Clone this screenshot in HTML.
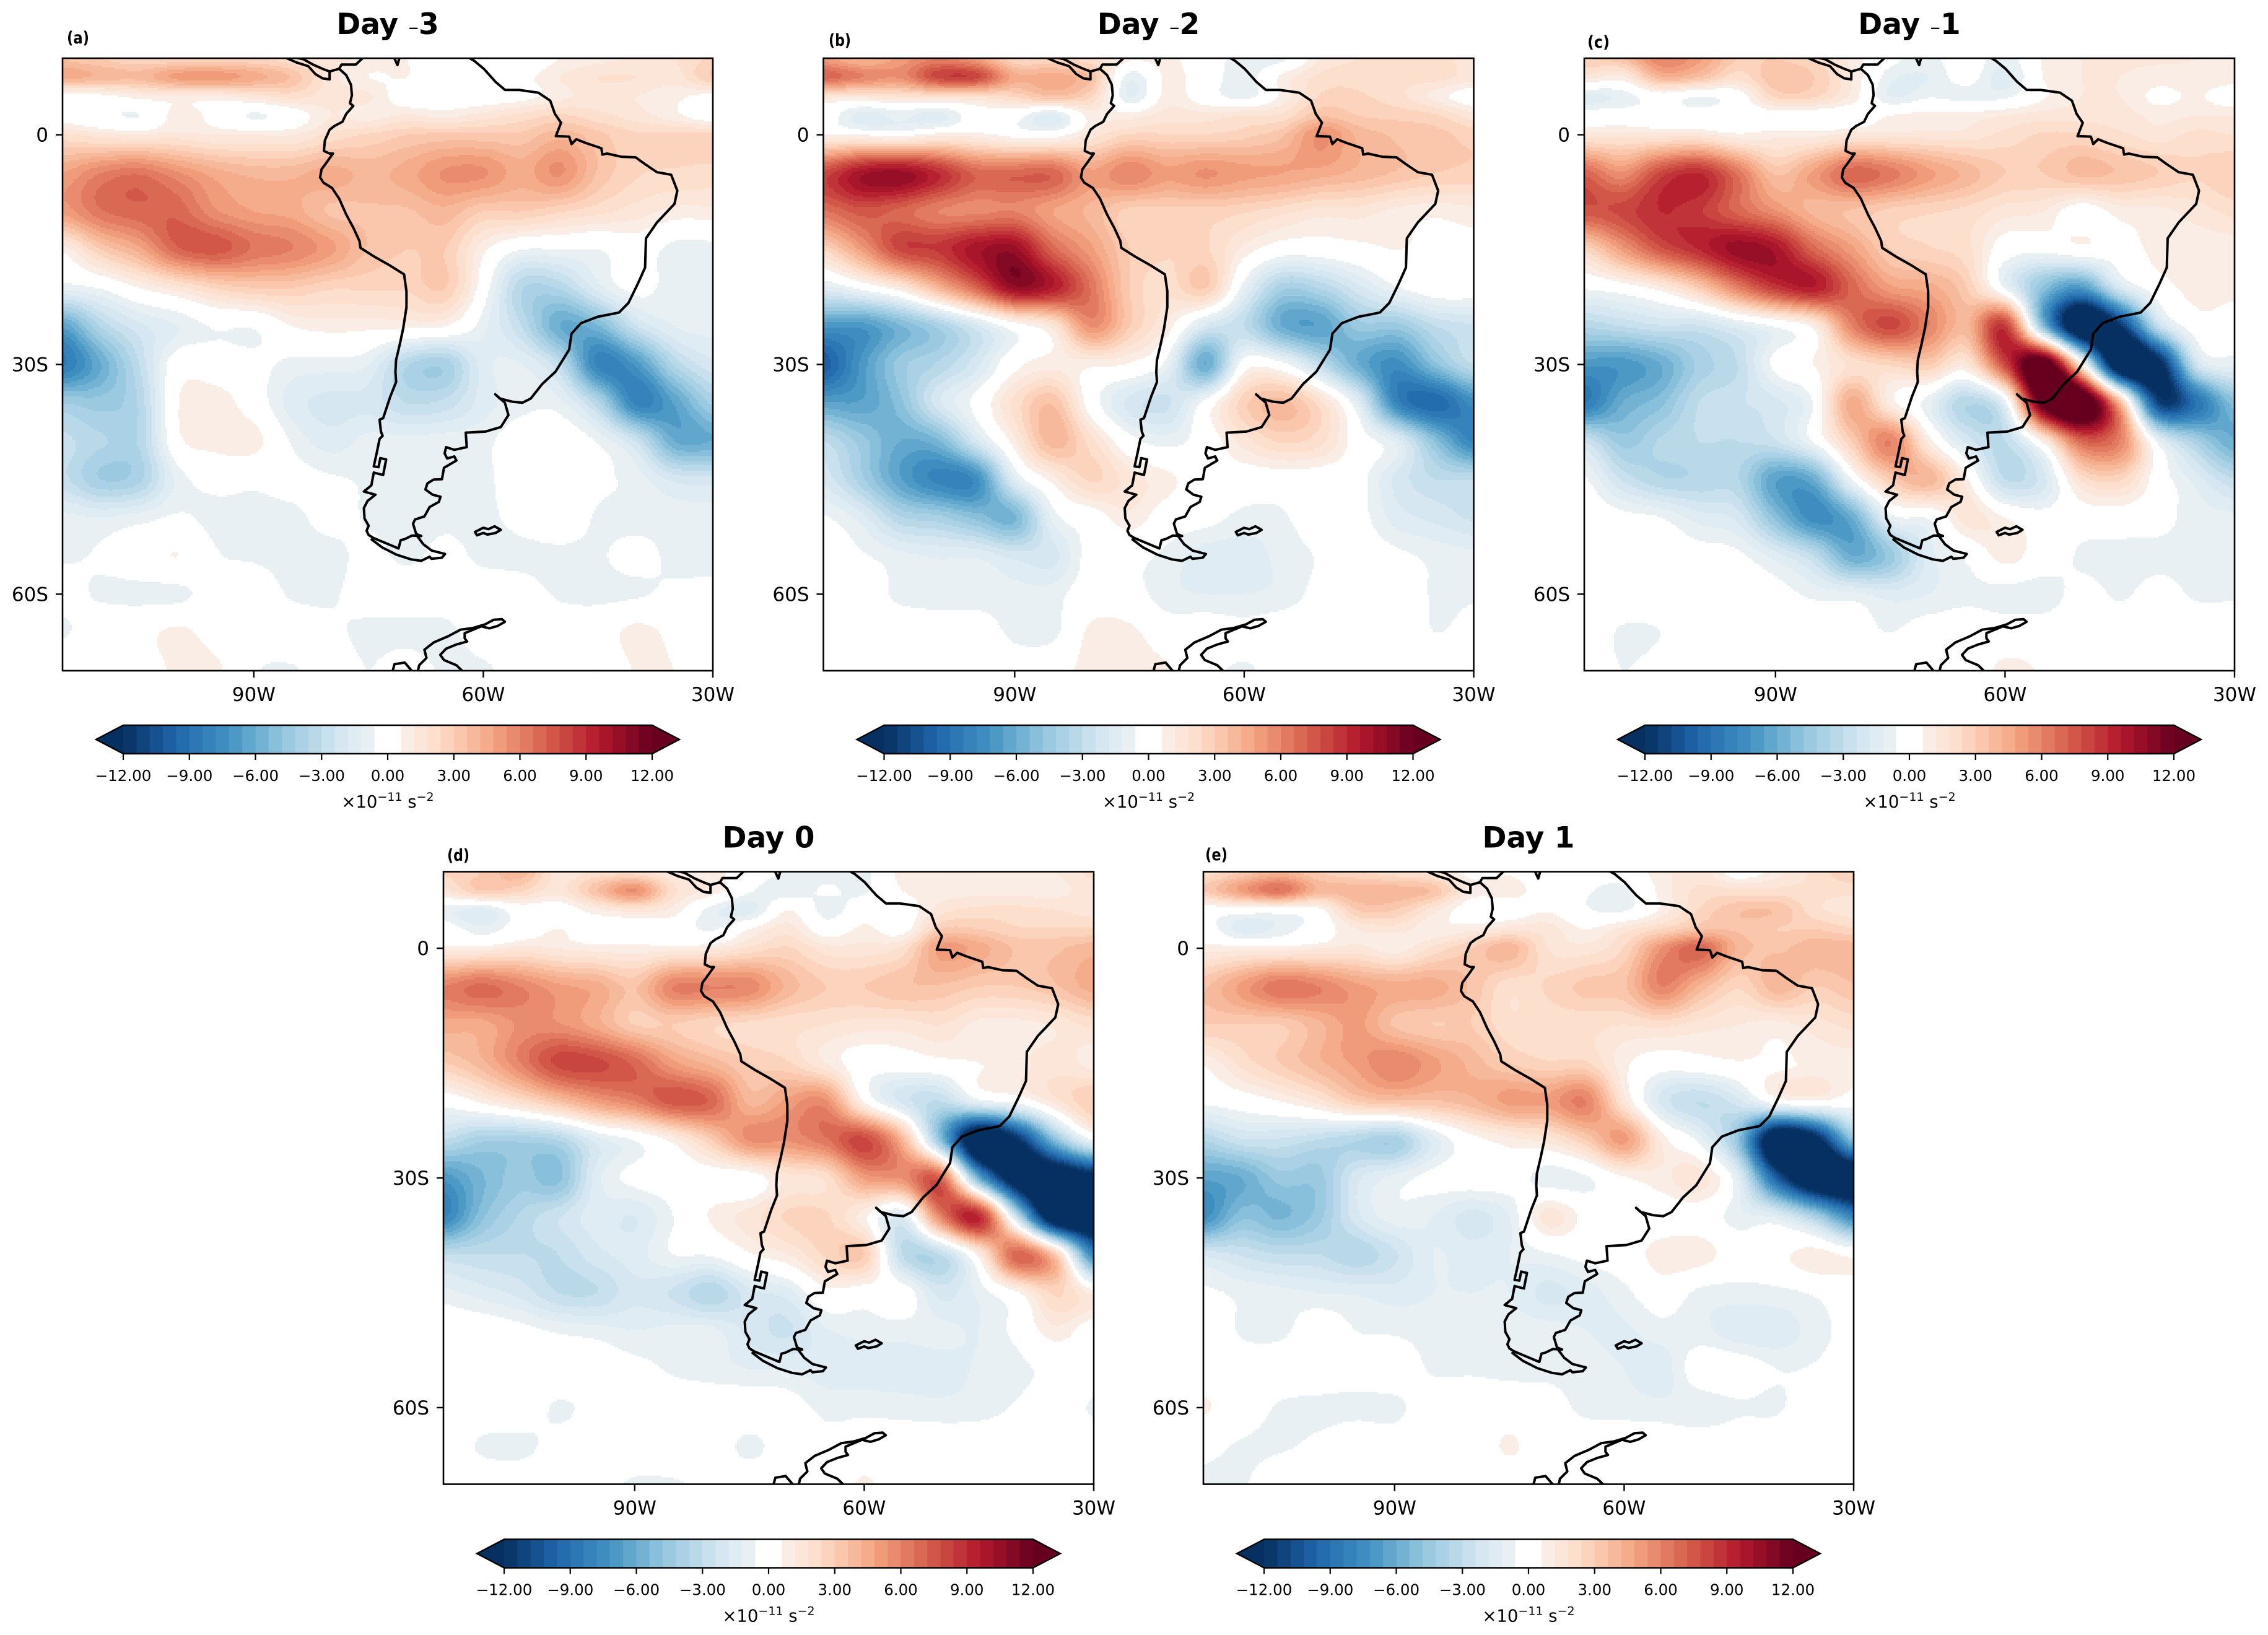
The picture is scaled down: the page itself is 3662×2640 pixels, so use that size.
<!DOCTYPE html>
<html lang="en">
<head>
<meta charset="utf-8">
<title>Day -3 to Day 1 composite maps</title>
<style>
html,body{margin:0;padding:0;background:#fff;}
svg{display:block;font-family:"DejaVu Sans","Liberation Sans",sans-serif;}
</style>
</head>
<body>
<svg id="figure" xmlns="http://www.w3.org/2000/svg" width="3662" height="2640" viewBox="0 0 3662 2640">
<rect x="0" y="0" width="3662" height="2640" fill="#ffffff"/>
</svg>
<script>
// ---- data: grid axes, tick labels, levels ----
const gridLons = [-115,-110,-105,-100,-95,-90,-85,-80,-75,-70,-65,-60,-55,-50,-45,-40,-35,-30];
const gridLats = [10,7.5,5,2.5,0,-5,-10,-15,-20,-25,-30,-35,-40,-45,-50,-55,-60,-65,-70];
const xTickLons = [-90,-60,-30];
const xTickLabels = ['90W','60W','30W'];
const yTickLats = [0,-30,-60];
const yTickLabels = ['0','30S','60S'];
const cbarTickValues = [-12,-9,-6,-3,0,3,6,9,12];
const cbarTickLabels = ['\u221212.00','\u22129.00','\u22126.00','\u22123.00','0.00','3.00','6.00','9.00','12.00'];
const panelLetters = ['(a)','(b)','(c)','(d)','(e)'];
const panelDays = ['\u20133','\u20132','\u20131','0','1'];

// ---- data: anomaly fields (x10^-11 s^-2), rows by gridLats, columns by gridLons ----
const fieldDayMinus3 = [
[3.5,3,2.5,2.5,2.5,2.5,2,1.5,1,0.6,0,0,-0.2,0.6,1,1.3,1.8,2.5],
[4.5,4,3.8,5,5.2,4.5,3.5,1.5,0.6,0.6,0,-0.2,0.3,1.2,1.8,1.8,1.5,3],
[0,0.3,0.9,1,1,1.5,2,1.5,1.3,0,0,0,0.3,1,1.5,1.2,0.8,0.3],
[0,-0.3,-0.6,0.9,0.3,-0.7,0,1.2,0.9,1.3,1,1.5,2,2.5,2,1.5,0.8,0],
[2,1.5,1.3,1.5,1.2,1.2,1.2,2,2.5,3,3.2,3.2,3.2,4,3.2,2.5,2.5,2.5],
[4.8,6,6.5,5.5,4.5,4,4,4.5,4,4.5,5.5,5.5,4.5,5.5,3.5,2.5,2.3,2.2],
[5,6.5,7,7,5.5,4.8,4.5,3.5,3.5,3.5,4,3,3,2.5,2,1.5,1,1],
[0.8,3,4.5,7,7.5,6.5,6,5,3.5,3,3,0.8,-0.6,-0.6,-0.6,0,-0.9,-0.9],
[-1,-0.5,0.6,1.5,2.5,3,3,2.5,2.5,2.5,3,0,-3.5,-3.5,-1.5,-0.3,-1,-1],
[-6.5,-3.5,-2,-1.2,-0.5,-0.5,0.6,0.9,0.8,0.8,0.6,-1,-3,-6,-5.5,-2.5,-1.2,-1],
[-8.5,-6,-3,0,0,-0.3,-0.8,-0.9,-1.2,-3.5,-4,-1.5,-1.2,-3,-8,-7,-3.5,-2],
[-4.2,-4.5,-3.5,0.5,1,0,-1.5,-2,-2,-3,-2.8,-1.5,-0.9,-1,-3.5,-8,-6.5,-4],
[-2.8,-3.5,-3.5,0.3,0.9,0.9,-0.7,-1.5,-1,-1,-0.9,-0.8,0,0,-0.7,-2.5,-6,-6],
[-2.8,-4.2,-3.8,-1,-0.3,-0.4,-0.3,-0.5,-0.7,-0.9,-0.9,-0.8,0,0,-0.4,-0.9,-2,-2.2],
[-1,-1.2,-0.9,-0.5,-0.8,-0.8,-0.8,-0.3,-0.7,-1,-0.8,-0.8,-0.3,0,-0.7,-0.9,-0.9,-0.9],
[-0.7,-0.5,0,0.6,-0.5,-0.7,-0.9,-0.9,-0.3,-0.8,-0.3,-0.8,-0.8,-0.8,-0.7,-0.3,-0.8,-0.8],
[-0.3,-0.7,-0.8,-0.8,-0.2,0,-0.7,-0.7,-0.2,0,0,0,-0.2,-0.7,-0.8,-0.7,-0.4,-0.4],
[-0.7,0,0.2,0.8,0.2,0,0,-0.4,-0.8,-0.9,-0.9,0,0,0,0,0.9,0.3,0],
[0.3,0.2,0,0.8,0.8,-0.5,-0.7,0,-0.6,0,-0.8,-0.8,0,0,-0.6,0.7,0.6,0]
];
const fieldDayMinus2 = [
[5,4,5,6,5,2.5,2.5,2,0.8,0.8,0,-1,-0.8,1.2,1.8,1.8,2,1.5],
[7,6,5.5,8,8,4.5,4.5,3.5,-1,0.8,0,-1,0.8,2,2.2,2,2,1.5],
[1.5,1.5,1.8,2,2,2.5,3.5,2.5,-1.2,0.9,0,-0.9,0.8,2.5,2.5,2,1,0],
[0,-1.5,-1,-1.5,0,-0.2,-1.5,0.9,0.9,1.5,1.5,1.8,2,3.5,3,2.8,2.5,1.5],
[0.8,0.6,0.3,1,0.9,0.3,0.2,1.5,2.5,2.5,2.5,2.8,3.5,5.5,4,3.5,3.2,2.8],
[8,10,10.5,9,7,7,7,5,6,5,5.5,5,4.8,4.5,4,3.5,3,2.8],
[6.5,7.5,7,6,5.8,6,4.8,4,2.8,2.8,2.8,2.5,2,1.5,1.5,1,0.8,1],
[2.5,5,8,8.5,10,10.5,7,5,3,2.5,2.5,1,0,0,0.3,0.6,0.3,0.3],
[-1.5,-0.3,1.2,4,7,10.5,9.5,6.5,3,2,3,-1,-4,-3.5,-2,-0.7,0,0],
[-7,-7,-5.5,-4,-2,0,1.5,5.5,3,1,-2,-3,-6,-6.5,-4.5,-4.5,-3,-2.5],
[-10,-7,-4.5,-3.5,-2,0.3,1,0.8,0.5,-1,-6,0,-0.3,-3,-6,-7.5,-5,-3],
[-6.5,-6.5,-5,-2,-0.3,2,3.5,0,-2,-2.5,-0.2,2.8,3.8,2,-1.5,-8,-9.5,-7.5],
[-3,-4.5,-6,-5.5,-2,1,4,2,-0.2,-0.9,0,1.5,2.5,2,0,-1.5,-5,-8],
[-2,-4,-6.5,-8,-7.5,-1.5,0.9,2.5,1.5,0.8,0,0,0,0,-0.3,-2,-3,-3],
[-0.5,-1.5,-3.5,-4,-5,-5.5,-1,0,1,0,-0.3,-0.8,-0.7,0,-0.3,-1.5,-2,-2.5],
[0,-0.5,-1,-1.3,-1.3,-2,-2,-0.2,-0.3,-0.8,-1.5,-1.5,-1,-0.5,0,-0.4,-0.8,-1],
[0,0,-0.8,-1,-1,-1,-0.9,0,-0.2,-1,-1.2,-1.2,-1,-0.3,0,0,-0.7,-0.7],
[0,-0.6,0,0,0,-0.8,-0.8,0.8,0.8,0,0,-0.3,0,0,0,0,-0.6,-0.3],
[0,0,0,0.3,0.4,0,0.2,0.9,0.9,0.7,-0.3,-0.7,-0.2,0,0,0,0,0]
];
const fieldDayMinus1 = [
[3,3.5,6,5,3,3,2.5,1,-0.3,-0.8,0,-1,0.7,1.2,1.3,1.3,1.2,1],
[1.5,1,4,3.5,2,3.5,3,1.2,-1,-1.2,-0.2,-1.5,0.6,1.2,1.2,0.9,1,1],
[-1.5,-1,0,-0.6,0,2.5,2.5,1,-1.2,-0.7,-0.9,-0.8,0.5,1.2,1.2,0.4,0.7,0],
[0,0,0,0,0,0.2,0,0,0.6,0.9,0.9,1.2,1.5,1.5,1.5,1,1.2,1.2],
[1.5,1.5,1.5,1.5,0.8,1,1,1.5,1.5,1.5,1.5,2,2.5,2.5,2,1.5,2,1.8],
[7,5.5,8,9,6.5,3.5,5,7,6.3,5,4,3,3,3.8,3.5,3,2.5,3],
[7.5,8,9,8.5,7,5.5,4,3.5,2.8,2.5,2.2,1.5,1.2,0,0.9,1,1.5,2],
[2.5,5,7.5,9,10.5,10,7,5,3,2.5,2,0,-0.3,0.3,0,0.9,0.8,0.8],
[-0.5,0,1,3,6,8.5,9.5,7,5,4.5,3,-0.7,-5,-7,-2,0,0.9,0.8],
[-3.5,-3,-2.5,-2.5,-1.5,-0.5,0.9,6,8,6,4,8.5,-5,-15,-12,-3,0,0],
[-7,-7,-6,-4,-3,-0.3,0.6,2,2.5,3,1.5,8,14,1,-15,-13,-2.5,-1],
[-8.5,-6,-5,-3,-2.5,-2,-0.5,4.5,1,-1,-3.5,-1,13,15,4,-11,-9,-5],
[-2.5,-4.5,-3.5,-3,-3,-2.5,-0.5,3,6,1,-2,-3,1,7,6,-1,-4,-6],
[-0.5,-2.5,-3.5,-3.5,-3.5,-6.5,-6,-0.5,3,4,0.8,-3,-2,2,2.5,0,-1.5,-3],
[0,-0.3,-0.6,-1.5,-2,-5,-7.5,-6,-1,-0.5,1.5,0.6,-0.2,0,0,-0.3,-0.9,-1],
[0,0,0,-0.2,-0.4,-1.5,-3,-6,-4.5,-1.5,-0.4,0.9,0,-0.7,-0.8,-0.8,-0.8,-0.8],
[0,0,0,0,0,-0.2,-0.8,-1,-1.5,-1.2,-0.8,-0.9,-1,-0.3,-0.7,-0.3,-0.7,-0.7],
[0,-0.7,-0.6,0,0,0,0,-0.2,-0.6,-0.1,0,0,0,0,0,0,0,0],
[0,-0.6,-0.2,0.5,0,-0.3,0,-0.2,-0.2,0,0,0.8,0.5,0,0,0.4,0,0]
];
const fieldDayZero = [
[2.5,3,4,1.5,2,2,1.2,0.9,0,-0.7,-0.9,-0.8,0.9,1.2,1.2,1.2,1.2,2],
[1.5,3,2.5,1.5,3.5,5.5,2,1,-0.5,-1,-0.5,-0.7,0.6,1,1,1,1,1.5],
[-0.9,-1.5,0,0,1,1.5,1,-0.9,-1.5,0.6,-0.9,0,0,1.5,2,2,1.8,1.5],
[0,-1,0,0.6,0,0,0,-0.7,0.6,1.5,0,0.8,0.2,3,3,2.5,2.5,2.5],
[1,1,1.5,1.2,1,0.9,1,1.2,2,2.5,1.5,1.5,2,5,4.5,3.5,3.5,4],
[6,6.8,6,5,4.5,3.5,6,6,5.8,4,3,3,3.5,3.5,3,3,3.5,4.5],
[4.5,4.5,5.5,5.5,4.5,3,3,2.5,2.2,2,1.8,1.5,1.5,1.8,1,1,1.3,2],
[3,4,6,8,8,7,5,4,3,2.5,1.2,0,0,0.3,0.6,1,1.5,1],
[-0.2,0.8,2,3.5,5,6,7.5,7,4,5,5.5,0.5,-2,-3,-1,-0.2,1.5,3],
[-3,-4,-4,-3.5,-1.5,-0.5,0.9,3,5.5,5.5,6.5,8,4,-5,-15,-12,-5,-0.5],
[-7,-5.5,-4.5,-5,-1.5,-0.3,0,0,0,1.5,2,5,5.5,7,-6,-14,-15,-13],
[-8,-5,-3.5,-2.5,-1.5,-1.8,-0.6,0.7,1.5,2.5,2.5,0.8,-1.5,6,9,-3,-15,-15],
[-3,-3,-3,-3,-2,-1.5,-0.6,-0.5,0.5,1.2,2.5,3,-3,-3,1,7,3,-8],
[-1,-1.5,-2,-3,-3,-2,-2.5,-3.5,-2,-1.5,0.3,0,0,-2,-1,0.5,2.5,1],
[0,0,-0.3,-0.7,-0.9,-1.2,-1,-1,-2,-2.5,-1.3,-1,-1,-1,-1.2,-0.3,1,0],
[0,0,0,0,0,-0.3,-0.7,-0.9,-1.2,-1.2,-1.5,-1.5,-1.5,-1.5,-1.1,-0.8,-0.3,0],
[0,0,0,-0.7,-0.3,0,0,0,0,-0.2,-0.8,-0.8,-0.9,-1,-0.9,-0.5,0,-0.7],
[0,-0.7,-0.8,-0.3,0,0,0.2,0,-0.8,-0.1,-0.3,0,0,0,0,0,0,0],
[0,0,0,0,-0.3,-0.7,-0.7,-0.3,0,0,0,0.7,0,0,0,0,0,0]
];
const fieldDayPlus1 = [
[2,3,4,3,2.5,2,1.5,0.3,0.5,-0.1,-0.2,0,1,1.5,0,1,2,3],
[3,5,6.5,4,4,4,3.5,1,1,0,-0.5,-0.8,0.9,2,2,2,2,2],
[0,0,0,0.3,3,3,1.5,0,0,0.5,-0.5,-0.7,0.8,2.5,3.5,3.5,2,1.5],
[0,-1.5,-1,0,1.2,1.5,0.8,1,1.5,1.5,0.6,1.5,2.5,3.5,3.5,3,3,2.5],
[1,1,1,1.2,1.5,0.9,2,3,4,1.8,1.5,2.5,5.5,7,4,3.5,4,4],
[3.5,5,6.5,6,5,4.5,4.5,3.5,2,2.5,3.2,3.5,6,4,2.5,4,3,3.5],
[3,3,3,4,5,3.5,3,3,2,2,2,1.8,2,1.5,1.2,1,1.5,2],
[0.7,2,3,4,5,6,5,4,3,2.5,2.5,0.8,0,0.2,0.5,0.4,0.8,0.8],
[-0.4,0,0.6,1.5,3,3.5,3.5,4,5,5,6,1.5,-2,-3,-2,0,0.5,0],
[-3.5,-2.5,-2.5,-3,-3.5,-4,-1.5,0.2,1,1.5,3,5,1,-1,-5,-15,-13,-5],
[-6.5,-6,-4.5,-4.5,-2,-1,-0.3,0,0,-1,-0.7,0.5,1,1.5,-1.5,-10,-15,-15],
[-7.5,-5,-5.5,-4.5,-2,-0.9,-1.2,-2,-1.2,1.5,0.3,0,0,0,-1,-1.5,-4,-8],
[-2,-2.5,-3,-3,-3.5,-2.5,-1.2,-1.5,-1.2,-0.7,-0.3,0,1,1,0,0.3,1,0.3],
[-0.4,-0.8,-1,-1.2,-1.3,-1.5,-1.2,-1.2,-1.2,-2,-1.5,-0.8,0,-0.8,-0.9,-0.8,-0.5,0],
[0.3,-0.7,-0.8,0,-0.6,-0.7,-0.9,-0.9,-0.9,-0.9,-1.2,-1.3,-0.9,-1,-1.6,-1.6,-0.9,-0.3],
[0,0,0,0,-0.2,0,-0.7,-0.7,-0.8,-0.8,-0.9,-1.2,-1.5,0,0,-0.6,-0.5,0],
[0.7,0,-0.7,-0.8,-0.8,-0.8,0,0,0,-0.2,-0.8,-0.9,-1,-1.1,-0.7,-0.7,0,-0.2],
[-0.3,-0.7,-0.7,-0.4,0,0,0,0,0.7,0,0,0,0,0,0,0,0,0],
[-0.8,-0.7,0,0,0,0.6,0,0,0,0,-0.4,-0.3,0,0,0,0,0,0]
];
const allFields = [fieldDayMinus3, fieldDayMinus2, fieldDayMinus1, fieldDayZero, fieldDayPlus1];

// ---- data: coastline strands as [lon, lat] ----
const coastSouthAmerica = [[-85.67,10],[-84.43,9.45],[-82.88,8.96],[-81.95,7.92],[-81.02,7.37],[-80.09,7.23],[-80.09,8.27],[-78.85,8.62],[-77.92,7.79],[-77.3,6.54],[-77.18,5.16],[-77.43,4.12],[-77,3.77],[-77.92,2.73],[-78.42,1.7],[-79.47,1.14],[-80.09,0.66],[-80.71,-0.73],[-80.84,-2.11],[-80.09,-2.46],[-79.66,-2.46],[-80.4,-3.49],[-81.15,-4.53],[-81.33,-5.57],[-80.9,-6.26],[-79.78,-6.95],[-78.85,-8.34],[-77.92,-10.41],[-76.99,-12.14],[-76.19,-13.87],[-76.06,-14.77],[-74.2,-15.95],[-72.34,-16.99],[-70.36,-18.23],[-70.05,-20.45],[-70.05,-22.52],[-70.48,-25.29],[-70.92,-27.37],[-71.41,-29.44],[-71.49,-30.94],[-71.4,-32.29],[-72.16,-34.18],[-73.1,-37.02],[-73.56,-37.2],[-73.38,-38.77],[-73.16,-39.31],[-73.56,-39.72],[-73.92,-41.47],[-74.32,-43.31],[-73.7,-43.41],[-73.46,-42.23],[-72.7,-42.42],[-73.1,-44.44],[-74.32,-44.12],[-74.64,-45.79],[-75.62,-46.6],[-74.1,-47.01],[-75.13,-47.82],[-75.62,-48.76],[-75.53,-50.11],[-74.99,-51.06],[-75.26,-51.73],[-74.99,-52.27],[-74.32,-52.68],[-71.08,-54.03],[-70.81,-52.95],[-70.27,-52.81],[-69.33,-52.35],[-68.11,-52.41],[-68.78,-52.14],[-69.19,-50.79],[-68.92,-50.25],[-67.7,-49.84],[-67.03,-48.63],[-65.81,-47.95],[-65.6,-47.28],[-66.63,-47.01],[-67.57,-46.33],[-67.3,-45.52],[-66.49,-45.03],[-65.41,-44.98],[-65.14,-43.5],[-63.52,-42.55],[-63.79,-42.01],[-64.73,-42.28],[-65.06,-41.61],[-64.87,-40.8],[-63.79,-41.15],[-62.17,-40.8],[-62.3,-38.91],[-59.74,-38.77],[-57.72,-38.18],[-56.72,-36.61],[-57.18,-34.99],[-58.44,-33.91],[-57.85,-34.45],[-56.23,-34.86],[-54.88,-34.99],[-53.8,-34.45],[-52.31,-32.56],[-50.56,-30.94],[-48.78,-28.06],[-48.47,-25.98],[-47.23,-24.6],[-45.06,-23.77],[-42.27,-23.22],[-41.03,-21.97],[-39.79,-19.41],[-38.86,-17.33],[-38.74,-13.53],[-37.31,-11.45],[-35.02,-9.03],[-34.65,-7.3],[-35.45,-5.22],[-37.31,-4.88],[-38.86,-3.84],[-40.1,-2.94],[-41.96,-2.87],[-43.82,-2.46],[-44.44,-2.59],[-44.57,-1.76],[-46.61,-1.07],[-47.85,-0.59],[-48.47,-1.21],[-48.78,-0.24],[-50.52,-0.17],[-49.84,1.56],[-50.64,2.73],[-51.26,4.46],[-52.81,5.5],[-55.29,5.85],[-57.15,5.85],[-58.39,6.89],[-59.94,8.62],[-61.18,9.65],[-62.11,10.2]];
const coastCaribbeanPanama = [[-85.05,10.2],[-83.5,9.86],[-82.26,9.17],[-81.02,8.62],[-80.09,8.27]];
const coastCaribbeanColombia = [[-78.85,8.62],[-78.54,9.17],[-76.68,9.17],[-75.57,10.2]];
const coastMaracaibo = [[-71.72,10.2],[-71.23,9.1],[-70.92,10.2]];
const coastTierraDelFuego = [[-74.59,-52.86],[-73.24,-53.89],[-71.35,-54.84],[-69.46,-55.46],[-68.11,-55.65],[-67.03,-55.11],[-66.76,-55.38],[-65.41,-55.24],[-65,-54.75],[-66.76,-54.3],[-67.84,-53.49],[-68.65,-52.41]];
const coastFalklands = [[-61.09,-51.87],[-60.01,-51.33],[-59.34,-51.51],[-58.53,-51.14],[-57.72,-51.6],[-58.39,-52],[-59.47,-52.22],[-60.01,-52],[-60.82,-52.32],[-61.09,-51.87]];
const coastAntarcticIsland = [[-71.89,-70.2],[-71.62,-69.15],[-70.27,-68.93],[-69.19,-70.2]];
const coastAntarctica = [[-68.6,-70.2],[-68.38,-69.28],[-67.43,-68.34],[-67.7,-67.26],[-66.49,-66.31],[-64.6,-65.5],[-62.98,-64.64],[-61.36,-64.42],[-59.74,-63.93],[-58.66,-63.34],[-57.58,-63.26],[-57.18,-63.61],[-58.12,-64.15],[-59.2,-64.47],[-60.28,-64.2],[-62.44,-65.1],[-62.44,-65.77],[-62.12,-66.18],[-63.52,-66.58],[-64.87,-67.12],[-65.63,-67.93],[-65.14,-68.61],[-63.52,-69.28],[-62.57,-70.2]];
const allCoastStrands = [coastSouthAmerica, coastCaribbeanPanama, coastCaribbeanColombia, coastMaracaibo, coastTierraDelFuego, coastFalklands, coastAntarcticIsland, coastAntarctica];

// ---- colormap ----
const rdbuAnchors = ['#053061','#2166ac','#4393c3','#92c5de','#d1e5f0','#f7f7f7','#fddbc7','#f4a582','#d6604d','#b2182b','#67001f'];
const levelMin = -12, levelMax = 12, levelStep = 0.6, bandCount = 40;

function hexToRgb(h){return [parseInt(h.slice(1,3),16),parseInt(h.slice(3,5),16),parseInt(h.slice(5,7),16)];}
function bandColor(i){
  if(i<0) return '#053061';
  if(i>=bandCount) return '#67001f';
  const mid = levelMin + levelStep*(i+0.5);
  if(Math.abs(mid)<levelStep) return '#ffffff';
  const t = (mid-levelMin)/(levelMax-levelMin)*10;
  const k = Math.min(9,Math.floor(t)), f = t-k;
  const a = hexToRgb(rdbuAnchors[k]), b = hexToRgb(rdbuAnchors[k+1]);
  return 'rgb('+a.map((c,j)=>Math.round(c+(b[j]-c)*f)).join(',')+')';
}
function bandOf(v){
  if(v<levelMin) return -1;
  if(v>=levelMax) return bandCount;
  return Math.floor((v-levelMin)/levelStep);
}

// ---- helpers ----
const NS = 'http://www.w3.org/2000/svg';
const root = document.getElementById('figure');
function mk(tag, attrs, parent){
  const el = document.createElementNS(NS, tag);
  for(const k in attrs) el.setAttribute(k, attrs[k]);
  (parent||root).appendChild(el);
  return el;
}
function cr(p0,p1,p2,p3,t){
  return 0.5*((2*p1)+(-p0+p2)*t+(2*p0-5*p1+4*p2-p3)*t*t+(-p0+3*p1-3*p2+p3)*t*t*t);
}
function latIndex(lat){
  for(let i=0;i<gridLats.length-1;i++){
    if(lat>=gridLats[i+1]) return i+(gridLats[i]-lat)/(gridLats[i]-gridLats[i+1]);
  }
  return gridLats.length-1;
}
function sampleField(field, lon, lat){
  const u = (lon-gridLons[0])/(gridLons[1]-gridLons[0]);
  const v = latIndex(lat);
  const nx = gridLons.length, ny = gridLats.length;
  const iu = Math.max(0,Math.min(nx-2,Math.floor(u)));
  const iv = Math.max(0,Math.min(ny-2,Math.floor(v)));
  const tu = u-iu, tv = v-iv;
  const rowVal = r => {
    const R = field[Math.max(0,Math.min(ny-1,r))];
    const g = c => R[Math.max(0,Math.min(nx-1,c))];
    return cr(g(iu-1),g(iu),g(iu+1),g(iu+2),tu);
  };
  return cr(rowVal(iv-1),rowVal(iv),rowVal(iv+1),rowVal(iv+2),tv);
}

// ---- layout ----
const panelLefts = [101,1329.5,2558,716,1943];
const panelTops = [94,94,94,1407.5,1407.5];
const letterXs = [108,1338,2563,722,1946];
const letterYs = [70,74,77,1390,1389];
const panelWidth = 1050, panelHeight = 989;
const lonMin = -115, lonMax = -30, latMax = 10, latMin = -70;

allFields.forEach(function(field, p){
  const px = panelLefts[p], py = panelTops[p];
  const xScale = lon => px + (lon-lonMin)/(lonMax-lonMin)*panelWidth;
  const yScale = lat => py + (latMax-lat)/(latMax-latMin)*panelHeight;

  const group = mk('g', {});
  
  

  const clip = mk('clipPath', {id:'clip'+p}, group);
  mk('rect', {x:px,y:py,width:panelWidth,height:panelHeight}, clip);

  // filled contour bands
  const fill = mk('g', {'clip-path':'url(#clip'+p+')','shape-rendering':'crispEdges'}, group);
  
  
  const step = 3;
  const bandPaths = {};
  for(let y=0;y<panelHeight;y+=step){
    const lat = latMax-(y+step/2)/panelHeight*(latMax-latMin);
    let runStart = 0, runBand = null;
    for(let x=0;x<=panelWidth;x+=step){
      let b = null;
      if(x<panelWidth){
        const lon = lonMin+(x+step/2)/panelWidth*(lonMax-lonMin);
        b = bandOf(sampleField(field,lon,lat));
      }
      if(b!==runBand){
        if(runBand!==null){
          const w = x-runStart;
          bandPaths[runBand] = (bandPaths[runBand]||'') + 'M'+(px+runStart)+' '+(py+y)+'h'+w+'v'+step+'h'+(-w)+'z';
        }
        runStart = x; runBand = b;
      }
    }
  }
  Object.keys(bandPaths).forEach(function(k){
    const band = mk('path', {d:bandPaths[k], fill:bandColor(+k)}, fill);
    
    
  });

  // coastlines
  const coast = mk('g', {'clip-path':'url(#clip'+p+')',fill:'none',stroke:'#000','stroke-width':4,'stroke-linejoin':'round','stroke-linecap':'round'}, group);
  
  
  allCoastStrands.forEach(function(strand){
    const d = strand.map((c,i)=>(i?'L':'M')+xScale(c[0]).toFixed(1)+' '+yScale(c[1]).toFixed(1)).join('');
    const line = mk('path', {d:d}, coast);
    
    
  });

  // frame
  const frame = mk('rect', {x:px,y:py,width:panelWidth,height:panelHeight,fill:'none',stroke:'#000','stroke-width':2.6}, group);
  
  

  // x ticks
  xTickLons.forEach(function(lon,i){
    const x = xScale(lon), y = py+panelHeight;
    const tick = mk('line', {x1:x,x2:x,y1:y,y2:y+11,stroke:'#000','stroke-width':2.4}, group);
    
    
    const lab = mk('text', {x:x,y:y+49,'text-anchor':'middle','font-size':31,fill:'#000'}, group);
    lab.textContent = xTickLabels[i];
    
    
  });
  // y ticks
  yTickLats.forEach(function(lat,i){
    const y = yScale(lat);
    const tick = mk('line', {x1:px-11,x2:px,y1:y,y2:y,stroke:'#000','stroke-width':2.4}, group);
    
    
    const lab = mk('text', {x:px-23,y:y+11,'text-anchor':'end','font-size':31,fill:'#000'}, group);
    lab.textContent = yTickLabels[i];
    
    
  });

  // title
  const title = mk('text', {x:px+525,y:py-39,'text-anchor':'middle','font-size':47,'font-weight':'bold',fill:'#000'}, group);
  
  
  const dayWord = mk('tspan', {}, title);
  dayWord.textContent = 'Day ';
  const dayNum = panelDays[p];
  if(dayNum.charAt(0)==='\u2013'){
    const dash = mk('tspan', {'font-weight':'normal','font-size':33}, title);
    dash.textContent = '\u2013';
    const num = mk('tspan', {}, title);
    num.textContent = dayNum.slice(1);
  } else {
    const num = mk('tspan', {}, title);
    num.textContent = dayNum;
  }

  // panel letter
  const letter = mk('text', {x:letterXs[p],y:letterYs[p],'font-size':27,'font-weight':'bold',fill:'#000',textLength:36,lengthAdjust:'spacingAndGlyphs'}, group);
  letter.textContent = panelLetters[p];
  
  

  // colorbar
  const cbar = mk('g', {}, group);
  
  
  const cbLeft = px+98, cbRight = px+952;
  const cbTop = py+panelHeight+(p<3?88:89), cbBottom = cbTop+46;
  const cbX = v => cbLeft+(v-levelMin)/(levelMax-levelMin)*(cbRight-cbLeft);
  const tipL = mk('path', {d:'M'+cbLeft+' '+cbTop+'L'+(cbLeft-44)+' '+((cbTop+cbBottom)/2)+'L'+cbLeft+' '+cbBottom+'z',fill:bandColor(-1)}, cbar);
  
  
  const tipR = mk('path', {d:'M'+cbRight+' '+cbTop+'L'+(cbRight+44)+' '+((cbTop+cbBottom)/2)+'L'+cbRight+' '+cbBottom+'z',fill:bandColor(bandCount)}, cbar);
  
  
  for(let i=0;i<bandCount;i++){
    const x0 = cbX(levelMin+i*levelStep), x1 = cbX(levelMin+(i+1)*levelStep);
    const seg = mk('rect', {x:x0,y:cbTop,width:x1-x0+0.6,height:cbBottom-cbTop,fill:bandColor(i)}, cbar);
    
    
  }
  const outline = mk('path', {d:'M'+cbLeft+' '+cbTop+'H'+cbRight+'L'+(cbRight+44)+' '+((cbTop+cbBottom)/2)+'L'+cbRight+' '+cbBottom+'H'+cbLeft+'L'+(cbLeft-44)+' '+((cbTop+cbBottom)/2)+'z',fill:'none',stroke:'#000','stroke-width':2.4}, cbar);
  
  
  cbarTickValues.forEach(function(v,i){
    const x = cbX(v);
    const t = mk('line', {x1:x,x2:x,y1:cbBottom,y2:cbBottom+10,stroke:'#000','stroke-width':2.2}, cbar);
    
    
    const lab = mk('text', {x:x,y:cbBottom+44,'text-anchor':'middle','font-size':24.5,fill:'#000'}, cbar);
    lab.textContent = cbarTickLabels[i];
    
    
  });
  const unit = mk('text', {x:(cbLeft+cbRight)/2,y:cbBottom+87,'text-anchor':'middle','font-size':27.5,fill:'#000'}, cbar);
  
  
  const u1 = mk('tspan', {}, unit); u1.textContent = '\u00d710';
  const u2 = mk('tspan', {dy:-11,'font-size':19}, unit); u2.textContent = '\u221211';
  const u3 = mk('tspan', {dy:11}, unit); u3.textContent = ' s';
  const u4 = mk('tspan', {dy:-11,'font-size':19}, unit); u4.textContent = '\u22122';
});
</script>
</body>
</html>
